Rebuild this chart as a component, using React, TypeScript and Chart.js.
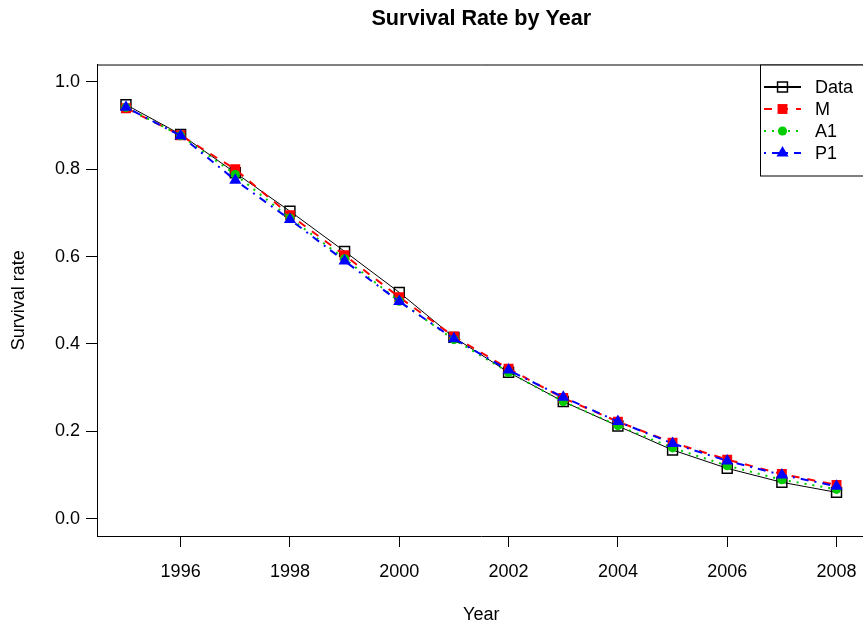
import React, { useEffect, useRef } from "react";
import { Chart, registerables } from "chart.js";

Chart.register(...registerables);

const years = [1995, 1996, 1997, 1998, 1999, 2000, 2001, 2002, 2003, 2004, 2005, 2006, 2007, 2008];
const dataSeries = [0.948, 0.880, 0.792, 0.704, 0.612, 0.518, 0.415, 0.335, 0.268, 0.212, 0.157, 0.115, 0.083, 0.060];
const mSeries = [0.940, 0.878, 0.800, 0.695, 0.603, 0.507, 0.417, 0.343, 0.276, 0.222, 0.174, 0.135, 0.102, 0.077];
const a1Series = [0.942, 0.877, 0.788, 0.688, 0.595, 0.498, 0.410, 0.335, 0.268, 0.213, 0.162, 0.121, 0.089, 0.067];
const p1Series = [0.942, 0.877, 0.775, 0.685, 0.590, 0.497, 0.412, 0.340, 0.278, 0.222, 0.172, 0.132, 0.100, 0.074];
const xTicks = [1996, 1998, 2000, 2002, 2004, 2006, 2008];
const yTicks = [0, 0.2, 0.4, 0.6, 0.8, 1.0];
const seriesNames = ["Data", "M", "A1", "P1"];

const FONT = "'Liberation Sans', Arial, Helvetica, sans-serif";
const GREEN = "#00CD00";

const styles = [
  { color: "#000000", width: 1, legendWidth: 2, dash: [] as number[], point: "rect", radius: 7, fill: "rgba(0,0,0,0)", pbw: 1.5 },
  { color: "#FF0000", width: 2, legendWidth: 2, dash: [8, 8], point: "rect", radius: 7, fill: "#FF0000", pbw: 0 },
  { color: GREEN, width: 2, legendWidth: 2, dash: [2, 6], point: "circle", radius: 4.6, fill: GREEN, pbw: 0 },
  { color: "#0000FF", width: 2, legendWidth: 2, dash: [2, 6, 8, 6], point: "triangle", radius: 7, fill: "#0000FF", pbw: 0 },
];

function drawMarker(ctx: CanvasRenderingContext2D, s: any, x: number, y: number) {
  ctx.beginPath();
  if (s.point === "rect") {
    const h = Math.SQRT1_2 * s.radius;
    ctx.rect(x - h, y - h, 2 * h, 2 * h);
  } else if (s.point === "circle") {
    ctx.arc(x, y, s.radius, 0, Math.PI * 2);
  } else {
    const r = s.radius;
    ctx.moveTo(x, y - r);
    ctx.lineTo(x + r * Math.sin(Math.PI * 2 / 3), y - r * Math.cos(Math.PI * 2 / 3));
    ctx.lineTo(x + r * Math.sin(Math.PI * 4 / 3), y - r * Math.cos(Math.PI * 4 / 3));
    ctx.closePath();
  }
  ctx.fillStyle = s.fill;
  ctx.fill();
  if (s.pbw > 0) {
    ctx.lineWidth = s.pbw;
    ctx.strokeStyle = s.color;
    ctx.stroke();
  }
}

const rPlugin = {
  id: "rStyle",
  afterDraw(chart: any) {
    const ctx = chart.ctx;
    const a = chart.chartArea;
    ctx.save();
    ctx.strokeStyle = "#000";
    ctx.lineWidth = 1;
    ctx.beginPath();
    ctx.moveTo(a.left, a.top + 0.5);
    ctx.lineTo(a.right, a.top + 0.5);
    ctx.lineTo(a.right, a.bottom);
    ctx.stroke();
    const lx = 760.5;
    const ly = a.top + 0.5;
    const lh = 176 - ly;
    ctx.fillStyle = "#fff";
    ctx.fillRect(lx, ly, a.right - lx, lh);
    ctx.strokeRect(lx, ly, a.right - lx, lh);
    const rows = [87, 109, 131, 153];
    seriesNames.forEach((name, i) => {
      const s = styles[i];
      const y = rows[i];
      ctx.save();
      ctx.strokeStyle = s.color;
      ctx.lineWidth = s.legendWidth;
      ctx.setLineDash(s.dash);
      ctx.beginPath();
      ctx.moveTo(764, y);
      ctx.lineTo(801, y);
      ctx.stroke();
      ctx.setLineDash([]);
      drawMarker(ctx, s, 782.5, y);
      ctx.restore();
      ctx.fillStyle = "#000";
      ctx.font = `18px ${FONT}`;
      ctx.textBaseline = "middle";
      ctx.textAlign = "left";
      ctx.fillText(name, 815, y + 1);
    });
    ctx.restore();
  },
};

export default function App() {
  const ref = useRef<HTMLCanvasElement>(null);
  useEffect(() => {
    document.body.style.margin = "0";
    document.body.style.overflow = "hidden";
    const canvas = ref.current!;
    const all = [dataSeries, mSeries, a1Series, p1Series];
    const chart = new Chart(canvas, {
      type: "line",
      data: {
        datasets: all.map((arr, i) => ({
          label: seriesNames[i],
          data: arr.map((v, j) => ({ x: years[j], y: v })),
          borderColor: styles[i].color,
          borderWidth: styles[i].width,
          borderDash: styles[i].dash,
          pointStyle: styles[i].point as any,
          pointRadius: styles[i].radius,
          pointBackgroundColor: styles[i].fill,
          pointBorderColor: styles[i].color,
          pointBorderWidth: styles[i].pbw,
          tension: 0,
          fill: false,
          order: 4 - i,
        })),
      },
      options: {
        animation: false,
        responsive: false,
        devicePixelRatio: 1,
        layout: { padding: 0 },
        plugins: {
          legend: { display: false },
          tooltip: { enabled: false },
          title: {
            display: true,
            text: "Survival Rate by Year",
            fullSize: false,
            color: "#000",
            font: { family: FONT, size: 21.6, weight: "bold" },
            padding: { top: 6, bottom: 32.6 },
          },
        },
        scales: {
          x: {
            type: "linear",
            min: 1994.47,
            max: 2008.53,
            afterBuildTicks: (s: any) => {
              s.ticks = xTicks.map((v) => ({ value: v }));
            },
            afterFit: (s: any) => {
              s.height = 92;
              s.paddingLeft = 0;
              s.paddingRight = 0;
            },
            grid: { drawOnChartArea: false, tickLength: 11, color: "#000", tickColor: "#000" },
            border: { display: true, color: "#000", width: 1 },
            ticks: {
              color: "#000",
              font: { family: FONT, size: 18 },
              padding: 14,
              maxRotation: 0,
              autoSkip: false,
              callback: (v: any) => String(v),
            },
            title: {
              display: true,
              text: "Year",
              color: "#000",
              font: { family: FONT, size: 18 },
              padding: { top: 0, bottom: 2 },
            },
          },
          y: {
            type: "linear",
            min: -0.04,
            max: 1.04,
            afterBuildTicks: (s: any) => {
              s.ticks = yTicks.map((v) => ({ value: v }));
            },
            afterFit: (s: any) => {
              s.width = 97;
              s.paddingTop = 0;
              s.paddingBottom = 0;
            },
            grid: { drawOnChartArea: false, tickLength: 11, color: "#000", tickColor: "#000" },
            border: { display: true, color: "#000", width: 1 },
            ticks: {
              color: "#000",
              font: { family: FONT, size: 18 },
              padding: 6,
              autoSkip: false,
              callback: (v: any) => Number(v).toFixed(1),
            },
            title: {
              display: true,
              text: "Survival rate",
              color: "#000",
              font: { family: FONT, size: 18 },
              padding: { top: 8, bottom: 0 },
            },
          },
        },
      },
      plugins: [rPlugin],
    });
    return () => chart.destroy();
  }, []);
  return (
    <div style={{ position: "absolute", left: 0, top: 0, width: 874, height: 628, overflow: "hidden" }}>
      <canvas ref={ref} width={874} height={628} style={{ width: 874, height: 628, display: "block" }} />
    </div>
  );
}
